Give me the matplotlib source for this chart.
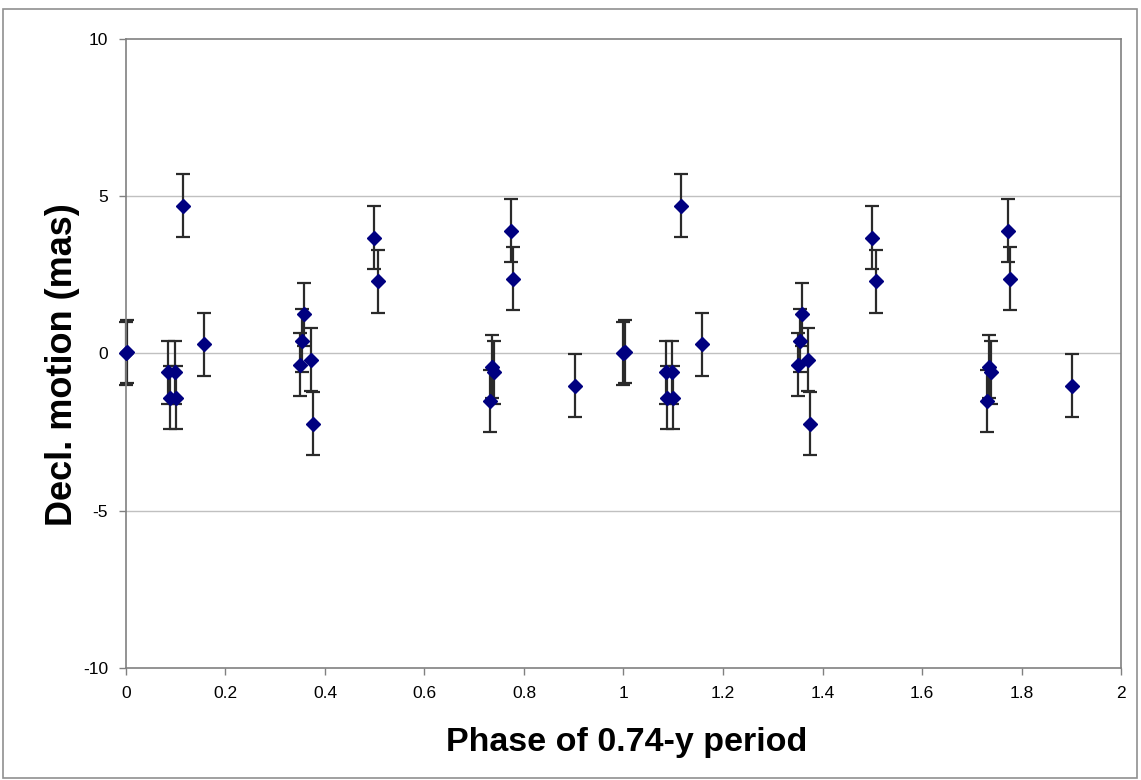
import matplotlib
matplotlib.use("Agg")
import matplotlib.pyplot as plt
from matplotlib.patches import Rectangle
import numpy as np

# Phase-folded declination offsets (one cycle), shown twice over phase 0..2
phase = [0.000, 0.003, 0.085, 0.098, 0.088, 0.100, 0.115, 0.157,
         0.350, 0.354, 0.358, 0.371, 0.375, 0.499, 0.507,
         0.731, 0.735, 0.739, 0.773, 0.777, 0.902]
decl = [0.00, 0.05, -0.60, -0.60, -1.40, -1.40, 4.70, 0.30,
        -0.35, 0.40, 1.25, -0.20, -2.24, 3.68, 2.30,
        -1.51, -0.42, -0.60, 3.90, 2.38, -1.02]
decl_err = [1.0] * len(decl)

x_ticks = [0, 0.2, 0.4, 0.6, 0.8, 1, 1.2, 1.4, 1.6, 1.8, 2]
x_tick_labels = ["0", "0.2", "0.4", "0.6", "0.8", "1", "1.2", "1.4", "1.6", "1.8", "2"]
y_ticks = [-10, -5, 0, 5, 10]
y_tick_labels = ["-10", "-5", "0", "5", "10"]

plt.rcParams['font.family'] = ['Liberation Sans', 'DejaVu Sans']

fig = plt.figure(figsize=(11.41, 7.80), dpi=100)
ax = fig.add_axes([0.1104, 0.1436, 0.8721, 0.8064])

# Two cycles of the folded data
x_all = np.concatenate([np.array(phase), np.array(phase) + 1.0])
y_all = np.concatenate([decl, decl])
e_all = np.concatenate([decl_err, decl_err])

eb = ax.errorbar(x_all, y_all, yerr=e_all, fmt='none', ecolor='#2a2a2a',
                 elinewidth=1.6, capsize=5, capthick=1.6, zorder=2)
for art in eb.lines[1] + eb.lines[2]:
    art.set_clip_on(False)
ax.plot(x_all, y_all, linestyle='none', marker='D', markersize=7,
        color='#000080', markeredgecolor='#000080', zorder=3, clip_on=False)

ax.set_xlim(0, 2)
ax.set_ylim(-10, 10)
ax.set_xticks(x_ticks)
ax.set_xticklabels(x_tick_labels)
ax.set_yticks(y_ticks)
ax.set_yticklabels(y_tick_labels)

for yv in [-5, 0, 5]:
    ax.axhline(yv, color='#c0c0c0', linewidth=1.0, zorder=1)

for sp in ax.spines.values():
    sp.set_color('#808080')
    sp.set_linewidth(1.2)

ax.tick_params(axis='both', direction='out', length=5, width=1.0, color='#808080',
               labelsize=12.5, labelcolor='black', pad=8)

ax.set_xlabel("Phase of 0.74-y period", fontsize=24.5, fontweight='bold')
ax.set_ylabel("Decl. motion (mas)", fontsize=26, fontweight='bold')
ax.xaxis.set_label_coords(0.5035, -0.094)
ax.yaxis.set_label_coords(-0.046, 0.483)

# Outer frame around the whole chart
fig.patches.append(Rectangle((3 / 1141, 2 / 780), 1134 / 1141, 769 / 780,
                             transform=fig.transFigure, fill=False,
                             edgecolor='#909090', linewidth=1.2))

fig.savefig("out.png", dpi=100)
